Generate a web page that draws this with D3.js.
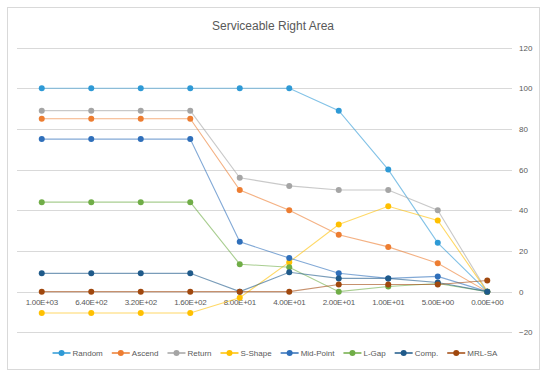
<!DOCTYPE html>
<html>
<head>
<meta charset="utf-8">
<script src="https://cdnjs.cloudflare.com/ajax/libs/d3/7.8.5/d3.min.js"></script>
<style>
  body { margin: 0; background: #fff; }
  svg text { font-family: "Liberation Sans", Arial, sans-serif; fill: #595959; }
</style>
</head>
<body>
<svg id="chart" width="550" height="379"></svg>
<script>
const categories = ["1.00E+03", "6.40E+02", "3.20E+02", "1.60E+02", "8.00E+01",
                    "4.00E+01", "2.00E+01", "1.00E+01", "5.00E+00", "0.00E+00"];
const seriesNames = ["Random", "Ascend", "Return", "S-Shape", "Mid-Point", "L-Gap", "Comp.", "MRL-SA"];
const random   = [100, 100, 100, 100, 100, 100, 89, 60, 24, 0];
const ascend   = [85, 85, 85, 85, 50, 40, 28, 22, 14, 0];
const ret      = [89, 89, 89, 89, 56, 52, 50, 50, 40, 0];
const sShape   = [-10.5, -10.5, -10.5, -10.5, -3, 14.5, 33, 42, 35, 0];
const midPoint = [75, 75, 75, 75, 24.5, 16.5, 9, 6.5, 7.5, 0];
const lGap     = [44, 44, 44, 44, 13.5, 12, 0, 2.5, 4, 0];
const comp     = [9, 9, 9, 9, 0, 9.5, 6.5, 6.5, 4.5, 0];
const mrlSa    = [0, 0, 0, 0, 0, 0, 3.5, 3.5, 3.5, 5.5];
const yTicks   = [-20, 0, 20, 40, 60, 80, 100, 120];

const colors = ["#2e9ad6", "#ed7d31", "#a5a5a5", "#ffc000", "#2f6fba", "#70ad47", "#1f5a8a", "#a0480e"];
const values = [random, ascend, ret, sShape, midPoint, lGap, comp, mrlSa];
const series = seriesNames.map((name, i) => ({ name, color: colors[i], values: values[i] }));

const svg = d3.select("#chart");

// chart frame
svg.append("rect")
    .attr("x", 7.5).attr("y", 7.5)
    .attr("width", 532).attr("height", 362)
    .attr("fill", "#fff")
    .attr("stroke", "#d9d9d9");

svg.append("text")
    .attr("x", 273).attr("y", 30)
    .attr("text-anchor", "middle")
    .style("font-size", "12px")
    .text("Serviceable Right Area");

const x = d3.scaleBand()
    .domain(categories)
    .range([17, 512]);

const y = d3.scaleLinear()
    .domain([-20, 120])
    .range([332.3, 47.6]);

const cx = d => x(d) + x.bandwidth() / 2;

// gridlines
svg.append("g")
    .selectAll("line")
    .data(yTicks)
    .join("line")
    .attr("x1", 17).attr("x2", 512)
    .attr("y1", d => Math.round(y(d)) + 0.5)
    .attr("y2", d => Math.round(y(d)) + 0.5)
    .attr("stroke", "#d9d9d9");

// right value axis
const yAxis = svg.append("g")
    .attr("transform", "translate(516,0)")
    .call(d3.axisRight(y).tickValues(yTicks).tickSize(0).tickPadding(3));
yAxis.select(".domain").remove();
yAxis.selectAll("text")
    .style("font-size", "8px")
    .style("font-family", null);

// category labels under the zero line
const xAxis = svg.append("g")
    .attr("transform", `translate(0,${y(0)})`)
    .call(d3.axisBottom(x).tickSize(0).tickPadding(8));
xAxis.select(".domain").remove();
xAxis.selectAll("text")
    .style("font-size", "8px")
    .style("font-family", null)
    .attr("letter-spacing", "-0.3");

const line = d3.line()
    .x((d, i) => cx(categories[i]))
    .y(d => y(d));

const g = svg.append("g");

series.forEach(s => {
    g.append("path")
        .datum(s.values)
        .attr("d", line)
        .attr("fill", "none")
        .attr("stroke", s.color)
        .attr("stroke-opacity", 0.6)
        .attr("stroke-width", 1.1);
    g.selectAll(null)
        .data(s.values)
        .join("circle")
        .attr("cx", (d, i) => cx(categories[i]))
        .attr("cy", d => y(d))
        .attr("r", 3)
        .attr("fill", s.color);
});

// legend
const legend = svg.append("g");
const items = legend.selectAll("g")
    .data(series)
    .join("g");
items.append("line")
    .attr("x1", 0).attr("x2", 18)
    .attr("stroke", d => d.color)
    .attr("stroke-width", 1.5);
items.append("circle")
    .attr("cx", 9).attr("r", 3)
    .attr("fill", d => d.color);
items.append("text")
    .attr("x", 20).attr("dy", "0.35em")
    .style("font-size", "8px")
    .text(d => d.name);

let pos = 0;
items.each(function () {
    const w = d3.select(this).select("text").node().getComputedTextLength();
    d3.select(this).attr("transform", `translate(${pos},0)`);
    pos += 20 + w + 9;
});
pos -= 9;
legend.attr("transform", `translate(${275 - pos / 2},353)`);
</script>
</body>
</html>
